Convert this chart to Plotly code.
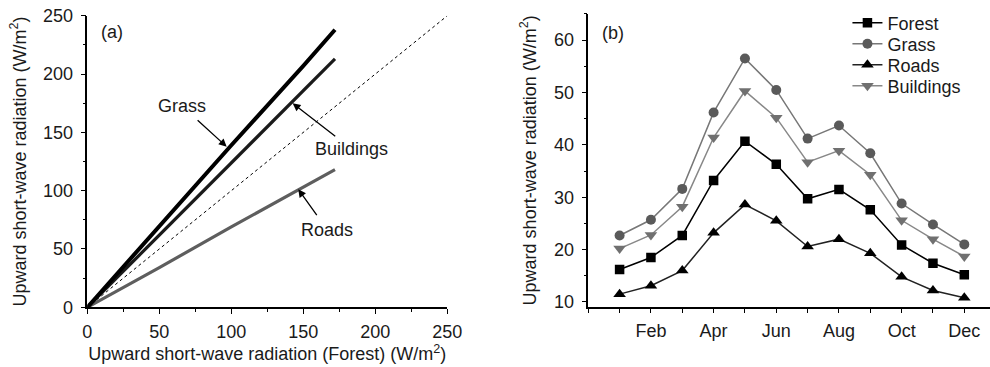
import plotly.graph_objects as go

# ---------------- Panel (a) data ----------------
forest_a = [0, 50, 100, 150, 172]
grass_a = [0, 70, 139, 207, 238]
buildings_a = [0, 62, 124, 186, 213]
roads_a = [0, 34, 69, 103, 118]
one_to_one = [0, 250]

# ---------------- Panel (b) data ----------------
months = [1, 2, 3, 4, 5, 6, 7, 8, 9, 10, 11, 12]
forest_b = [16.2, 18.5, 22.7, 33.2, 40.7, 36.3, 29.7, 31.5, 27.6, 20.9, 17.4, 15.2]
grass_b = [22.7, 25.7, 31.6, 46.2, 56.5, 50.5, 41.2, 43.7, 38.4, 28.8, 24.8, 21.0]
roads_b = [11.5, 13.1, 16.0, 23.2, 28.6, 25.5, 20.6, 22.0, 19.3, 14.8, 12.2, 10.8]
buildings_b = [20.2, 22.8, 28.2, 41.4, 50.3, 45.2, 36.7, 38.9, 34.3, 25.6, 22.0, 18.7]
month_tickvals = [2, 4, 6, 8, 10, 12]
month_ticktext = ["Feb", "Apr", "Jun", "Aug", "Oct", "Dec"]

FONT = "Liberation Sans, Arial, sans-serif"
FS = 18
TXT = "#1a1a1a"

fig = go.Figure()

# Panel (a)
fig.add_trace(go.Scatter(x=one_to_one, y=one_to_one, mode="lines",
                         line=dict(color="black", width=1, dash="dot"),
                         showlegend=False, xaxis="x", yaxis="y"))
fig.add_trace(go.Scatter(x=forest_a, y=roads_a, mode="lines",
                         line=dict(color="#5e5e5e", width=3.2),
                         showlegend=False, xaxis="x", yaxis="y"))
fig.add_trace(go.Scatter(x=forest_a, y=buildings_a, mode="lines",
                         line=dict(color="#1a1a1a", width=3.2),
                         showlegend=False, xaxis="x", yaxis="y"))
fig.add_trace(go.Scatter(x=forest_a, y=grass_a, mode="lines",
                         line=dict(color="black", width=4),
                         showlegend=False, xaxis="x", yaxis="y"))

# Panel (b)
fig.add_trace(go.Scatter(x=months, y=forest_b, name="Forest", mode="lines+markers",
                         line=dict(color="black", width=1.5),
                         marker=dict(symbol="square", size=9.5, color="black"),
                         xaxis="x2", yaxis="y2", legend="legend"))
fig.add_trace(go.Scatter(x=months, y=grass_b, name="Grass", mode="lines+markers",
                         line=dict(color="#777777", width=1.5),
                         marker=dict(symbol="circle", size=10, color="#5a5a5a"),
                         xaxis="x2", yaxis="y2", legend="legend2"))
fig.add_trace(go.Scatter(x=months, y=roads_b, name="Roads", mode="lines+markers",
                         line=dict(color="#222222", width=1.5),
                         marker=dict(symbol="triangle-up", size=11, color="black"),
                         xaxis="x2", yaxis="y2", legend="legend3"))
fig.add_trace(go.Scatter(x=months, y=buildings_b, name="Buildings", mode="lines+markers",
                         line=dict(color="#888888", width=1.5),
                         marker=dict(symbol="triangle-down", size=11, color="#707070"),
                         xaxis="x2", yaxis="y2", legend="legend4"))

axis_common = dict(showgrid=False, zeroline=False, showline=True, linecolor="black",
                   linewidth=1.5, ticks="outside", ticklen=5, tickwidth=1.2,
                   tickcolor="black", tickfont=dict(family=FONT, size=FS, color=TXT),
                   automargin=False)


def legend_box(ycenter_px):
    return dict(x=0.856, y=1 - ycenter_px / 367, xanchor="left", yanchor="middle",
                bgcolor="rgba(0,0,0,0)", font=dict(family=FONT, size=FS, color=TXT),
                itemwidth=30, tracegroupgap=0)


fig.update_layout(
    width=990, height=367,
    margin=dict(l=0, r=0, t=0, b=0),
    paper_bgcolor="white", plot_bgcolor="white",
    font=dict(family=FONT, size=FS, color=TXT),
    xaxis=dict(domain=[0.0882, 0.4518], range=[0, 250], dtick=50, tick0=0,
               minor=dict(dtick=25, ticks="outside", ticklen=3, tickcolor="black"),
               ticklabelstandoff=2,
               title=dict(text="Upward short-wave radiation (Forest) (W/m<sup>2</sup>)",
                          font=dict(family=FONT, size=FS, color=TXT), standoff=5),
               anchor="y", **axis_common),
    yaxis=dict(domain=[0.1627, 0.957], range=[0, 250], dtick=50, tick0=0,
               minor=dict(dtick=25, ticks="outside", ticklen=3, tickcolor="black"),
               ticklabelstandoff=4,
               title=dict(text="Upward short-wave radiation (W/m<sup>2</sup>)",
                          font=dict(family=FONT, size=FS, color=TXT), standoff=12),
               anchor="x", **axis_common),
    xaxis2=dict(domain=[0.5942, 1.0], range=[0, 12.82],
                tickmode="array", tickvals=month_tickvals, ticktext=month_ticktext,
                minor=dict(tickmode="linear", tick0=1, dtick=1, ticks="outside",
                           ticklen=5, tickcolor="black"),
                ticklabelstandoff=2,
                anchor="y2", **axis_common),
    yaxis2=dict(domain=[0.1643, 0.9619], range=[9.1, 65], dtick=10, tick0=0,
                minor=dict(dtick=5, ticks="outside", ticklen=3, tickcolor="black"),
                ticklabelstandoff=4,
                title=dict(text="Upward short-wave radiation (W/m<sup>2</sup>)",
                           font=dict(family=FONT, size=FS, color=TXT), standoff=13),
                anchor="x2", **axis_common),
    legend=legend_box(23),
    legend2=legend_box(44),
    legend3=legend_box(65),
    legend4=legend_box(86),
)

annotations = [
    dict(text="(a)", x=17, y=236, xref="x", yref="y", showarrow=False,
         font=dict(family=FONT, size=FS, color=TXT)),
    dict(text="Grass", x=96.8, y=137.7, ax=65.8, ay=172.6, xref="x", yref="y",
         axref="x", ayref="y", showarrow=True, arrowhead=2, arrowsize=1.2,
         arrowwidth=1.3, arrowcolor="black", startstandoff=4,
         font=dict(family=FONT, size=FS, color=TXT)),
    dict(text="Buildings", x=142.6, y=174.9, ax=183.6, ay=135.7, xref="x", yref="y",
         axref="x", ayref="y", showarrow=True, arrowhead=2, arrowsize=1.2,
         arrowwidth=1.3, arrowcolor="black", startstandoff=2,
         font=dict(family=FONT, size=FS, color=TXT)),
    dict(text="Roads", x=146.5, y=101.2, ax=166.7, ay=66.3, xref="x", yref="y",
         axref="x", ayref="y", showarrow=True, arrowhead=2, arrowsize=1.2,
         arrowwidth=1.3, arrowcolor="black", startstandoff=4,
         font=dict(family=FONT, size=FS, color=TXT)),
    dict(text="(b)", x=0.79, y=61.3, xref="x2", yref="y2", showarrow=False,
         font=dict(family=FONT, size=FS, color=TXT)),
]
fig.update_layout(annotations=annotations)

fig.write_html("out.html")
